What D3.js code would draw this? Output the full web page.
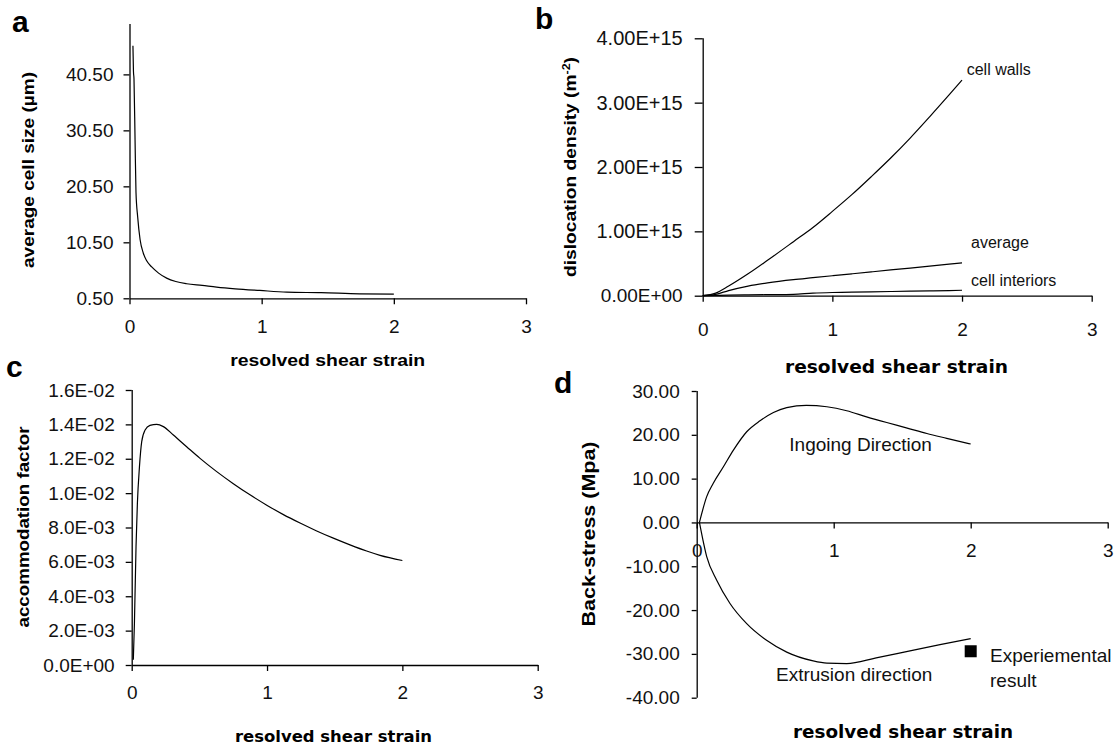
<!DOCTYPE html>
<html>
<head>
<meta charset="UTF-8">
<title>Cell size, dislocation density, accommodation factor and back-stress</title>
<script src="https://cdn.jsdelivr.net/npm/d3@7"></script>
<style>
body { margin: 0; background: #fff; }
svg text { font-family: "Liberation Sans", Arial, sans-serif; fill: #000; }
.axis path, .axis line { stroke: #000; stroke-width: 1.3; }
.axis .tick text { font-size: 19px; fill: #111; }
.curve { fill: none; stroke: #000; stroke-width: 1.2; }
.title { font-weight: bold; font-size: 17px; }
.wide { font-family: "DejaVu Sans", Verdana, sans-serif; }
.letter { font-weight: bold; font-size: 30px; }
.note { font-size: 16px; fill: #111; }
.note-d { font-size: 19px; fill: #111; }
</style>
</head>
<body>
<div id="graphe"><svg width="1119" height="747"></svg></div>

<script>
// ---- data ----
var strainTicks = [0, 1, 2, 3];

// a : average cell size (µm)
var strainA = [0.026, 0.030, 0.034, 0.042, 0.049, 0.062, 0.08, 0.104, 0.13, 0.168, 0.22, 0.281, 0.35, 0.432, 0.55, 0.659, 0.8, 0.986, 1.19, 1.45, 1.74, 2.0];
var cellSize = [45.6, 41.0, 39.7, 28.8, 19.5, 15.0, 11.0, 8.6, 7.2, 6.1, 5.0, 4.1, 3.5, 3.1, 2.8, 2.5, 2.2, 1.9, 1.6, 1.5, 1.3, 1.25];
var ticksA = [0.5, 10.5, 20.5, 30.5, 40.5];

// b : dislocation density (m^-2)
var strainB = [0, 0.1, 0.2, 0.35, 0.5, 0.7, 0.85, 1.0, 1.15, 1.3, 1.45, 1.6, 1.75, 1.9, 2.0];
var cellWalls = [0, 0.04e15, 0.15e15, 0.34e15, 0.55e15, 0.84e15, 1.06e15, 1.31e15, 1.57e15, 1.85e15, 2.14e15, 2.45e15, 2.78e15, 3.12e15, 3.35e15];
var average = [0, 0.02e15, 0.08e15, 0.15e15, 0.20e15, 0.25e15, 0.28e15, 0.31e15, 0.34e15, 0.37e15, 0.40e15, 0.43e15, 0.46e15, 0.49e15, 0.51e15];
var cellInteriors = [0, 0.004e15, 0.008e15, 0.012e15, 0.016e15, 0.022e15, 0.04e15, 0.05e15, 0.055e15, 0.06e15, 0.065e15, 0.07e15, 0.075e15, 0.08e15, 0.085e15];
var ticksB = [0, 1e15, 2e15, 3e15, 4e15];

// c : accommodation factor
var strainC = [0.012, 0.02, 0.032, 0.042, 0.057, 0.074, 0.099, 0.135, 0.185, 0.234, 0.308, 0.406, 0.505, 0.628, 0.751, 0.874, 0.998, 1.121, 1.244, 1.367, 1.49, 1.613, 1.736, 1.835, 2.0];
var accommodation = [0.0003, 0.0024, 0.0069, 0.0094, 0.0115, 0.0130, 0.01367, 0.01394, 0.0140, 0.01387, 0.01338, 0.0127, 0.01202, 0.01125, 0.01055, 0.0099, 0.0093, 0.00875, 0.00826, 0.0078, 0.00738, 0.00699, 0.00663, 0.00638, 0.00608];
var ticksC = [0, 0.002, 0.004, 0.006, 0.008, 0.010, 0.012, 0.014, 0.016];

// d : back-stress (MPa)
var strainIn = [0.02, 0.073, 0.12, 0.195, 0.268, 0.365, 0.462, 0.56, 0.657, 0.8, 0.95, 1.095, 1.24, 1.387, 1.53, 1.68, 1.825, 2.0];
var ingoing = [0, 5.9, 8.9, 12.7, 16.5, 20.7, 23.2, 25.1, 26.2, 26.7, 26.4, 25.5, 24.1, 22.8, 21.6, 20.3, 19.2, 17.9];
var strainEx = [0.02, 0.073, 0.146, 0.243, 0.365, 0.51, 0.657, 0.85, 0.95, 1.095, 1.31, 1.557, 1.776, 2.0];
var extrusion = [0, -7.8, -13.2, -18.5, -23.1, -26.9, -29.6, -31.6, -32.1, -32.2, -30.9, -29.3, -27.9, -26.5];
var expStrain = [2.0];
var expStress = [-29.4];
var ticksD = [-40, -30, -20, -10, 0, 10, 20, 30];

// ---- drawing ----
var svg = d3.select("svg");

function zip(xs, ys) { return xs.map(function(v, i) { return [v, ys[i]]; }); }

function sciFmt(digits, zeroExp) {
  return function(v) {
    if (v === 0) return (0).toFixed(digits) + "E+" + zeroExp;
    var e = Math.floor(Math.log10(Math.abs(v)) + 1e-9);
    var m = v / Math.pow(10, e);
    var s = e < 0 ? "-" : "+";
    var ee = String(Math.abs(e)).padStart(2, "0");
    return m.toFixed(digits) + "E" + s + ee;
  };
}

function panel(p) {
  var g = svg.append("g");
  var x = d3.scaleLinear().domain([0, 3]).range(p.xr);
  var y = d3.scaleLinear().domain(p.yDom).range(p.yr);

  g.append("g")
      .attr("class", "axis")
      .attr("transform", "translate(" + p.xr[0] + ",0)")
      .call(d3.axisLeft(y).tickValues(p.yTicks).tickFormat(p.yFmt)
        .tickSize(p.tick).tickPadding(p.pad).tickSizeOuter(0))
      .select(".domain").attr("d", "M0.5," + p.yr[0] + "V" + p.yr[1]);

  var axisY = p.xAt === undefined ? p.yr[0] : y(p.xAt);
  var xa = g.append("g")
      .attr("class", "axis")
      .attr("transform", "translate(0," + axisY + ")")
      .call(d3.axisBottom(x).tickValues(strainTicks).tickFormat(d3.format("d"))
        .tickSize(6).tickSizeOuter(0));
  xa.selectAll(".tick text").attr("y", p.xLab).attr("dy", "0.35em");

  var line = d3.line()
      .curve(d3.curveMonotoneX)
      .x(function(d) { return x(d[0]); })
      .y(function(d) { return y(d[1]); });
  p.series.forEach(function(s) {
    g.append("path").attr("class", "curve").attr("d", line(s));
  });
  return {g: g, x: x, y: y};
}

function title(cls, text, cx, cy, len, rotate, size) {
  var t = svg.append("text")
      .attr("class", "title " + (cls || ""))
      .attr("text-anchor", "middle")
      .attr("dy", "0.35em")
      .attr("transform", "translate(" + cx + "," + cy + ")" + (rotate ? " rotate(-90)" : ""))
      .attr("textLength", len)
      .attr("lengthAdjust", "spacingAndGlyphs")
      .style("font-size", size + "px");
  t.text(text);
  return t;
}

// a
panel({xr: [129.5, 526], yr: [298.3, 24], yDom: [0.5, 49.5], yTicks: ticksA,
  yFmt: function(v) { return v.toFixed(2); }, tick: 6, pad: 10, xLab: 28.4,
  series: [zip(strainA, cellSize)]});
title("", "average cell size (\u00b5m)", 28.3, 170, 196, true, 17);
title("", "resolved shear strain", 327.7, 360.5, 195, false, 17);

// b
var pb = panel({xr: [702.7, 1091.7], yr: [295.7, 38.3], yDom: [0, 4e15], yTicks: ticksB,
  yFmt: sciFmt(2, "00"), tick: 8, pad: 12, xLab: 33.6,
  series: [zip(strainB, cellWalls), zip(strainB, average), zip(strainB, cellInteriors)]});
pb.g.selectAll(".axis .tick text").filter(function(d) { return d > 100; }).style("font-size", "20px");
var tb = title("", "", 570, 167, 220, true, 17);
tb.append("tspan").text("dislocation density (m");
tb.append("tspan").attr("baseline-shift", "super").style("font-size", "11px").text("-2");
tb.append("tspan").text(")");
title("wide", "resolved shear strain", 896.5, 367.5, 223, false, 17);
svg.append("text").attr("class", "note").attr("x", 966.7).attr("y", 69.3).attr("dy", "0.35em").text("cell walls");
svg.append("text").attr("class", "note").attr("x", 971).attr("y", 242.7).attr("dy", "0.35em").text("average");
svg.append("text").attr("class", "note").attr("x", 971).attr("y", 280.7).attr("dy", "0.35em").text("cell interiors");

// c
panel({xr: [131.7, 537.7], yr: [665, 390], yDom: [0, 0.016], yTicks: ticksC,
  yFmt: sciFmt(1, "00"), tick: 6, pad: 11, xLab: 27.7,
  series: [zip(strainC, accommodation)]});
title("", "accommodation factor", 23.3, 527, 201, true, 17);
title("wide", "resolved shear strain", 333.5, 736.5, 197, false, 16);

// d
var pd = panel({xr: [696.7, 1107.7], yr: [697.7, 391], yDom: [-40, 30], yTicks: ticksD,
  yFmt: function(v) { return v.toFixed(2); }, tick: 5, pad: 12, xLab: 27.7, xAt: 0,
  series: [zip(strainIn, ingoing), zip(strainEx, extrusion)]});
pd.g.selectAll(".exp").data(zip(expStrain, expStress)).enter().append("rect")
    .attr("class", "exp")
    .attr("x", function(d) { return pd.x(d[0]) - 6; })
    .attr("y", function(d) { return pd.y(d[1]) - 6; })
    .attr("width", 12).attr("height", 12)
    .attr("fill", "#000");
title("", "Back-stress (Mpa)", 588, 534, 185, true, 19);
title("wide", "resolved shear strain", 903, 731.7, 220, false, 17);
svg.append("text").attr("class", "note-d").attr("x", 789.3).attr("y", 444).attr("dy", "0.35em").text("Ingoing Direction");
svg.append("text").attr("class", "note-d").attr("x", 776).attr("y", 674).attr("dy", "0.35em").text("Extrusion direction");
svg.append("text").attr("class", "note-d").attr("x", 990).attr("y", 655).attr("dy", "0.35em").text("Experiemental");
svg.append("text").attr("class", "note-d").attr("x", 990).attr("y", 680).attr("dy", "0.35em").text("result");

// panel letters
[["a", 12, 32], ["b", 535, 29], ["c", 6, 377], ["d", 554, 393]].forEach(function(l) {
  svg.append("text").attr("class", "letter").attr("x", l[1]).attr("y", l[2]).text(l[0]);
});
</script>
</body>
</html>
